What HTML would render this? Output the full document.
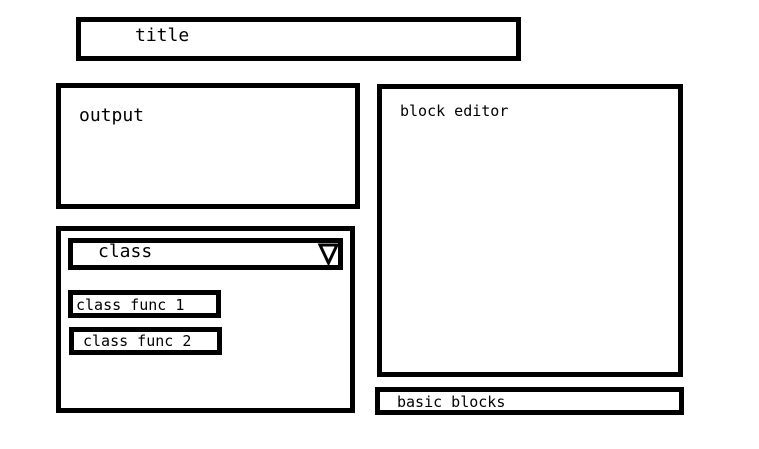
<!DOCTYPE html>
<html><head><style>html,body{margin:0;padding:0;background:#fff}svg{display:block}</style></head>
<body>
<svg width="759" height="449" xmlns="http://www.w3.org/2000/svg" font-family="DejaVu Sans Mono, Liberation Mono, monospace" fill="none" stroke="#000" stroke-width="5">
<rect x="78.5" y="19.5" width="440" height="39"/>
<rect x="58.5" y="85.5" width="299" height="121"/>
<rect x="379.5" y="86.5" width="301" height="288"/>
<rect x="58.5" y="228.5" width="294" height="182"/>
<rect x="70.5" y="240.5" width="270" height="27"/>
<rect x="70.5" y="292.5" width="148" height="23"/>
<rect x="71.5" y="329.5" width="148" height="23"/>
<rect x="377.5" y="389.5" width="304" height="23"/>
<polygon points="320,245 337,245 328.5,263" stroke-width="3"/>
<g fill="#000" stroke="none">
<text x="135" y="41" font-size="18">title</text>
<text x="79" y="121" font-size="18">output</text>
<text x="400" y="116" font-size="15">block editor</text>
<text x="98" y="257" font-size="18">class</text>
<text x="76" y="310" font-size="15">class func 1</text>
<text x="83" y="346" font-size="15">class func 2</text>
<text x="397" y="407" font-size="15">basic blocks</text>
</g>
</svg>
</body></html>
